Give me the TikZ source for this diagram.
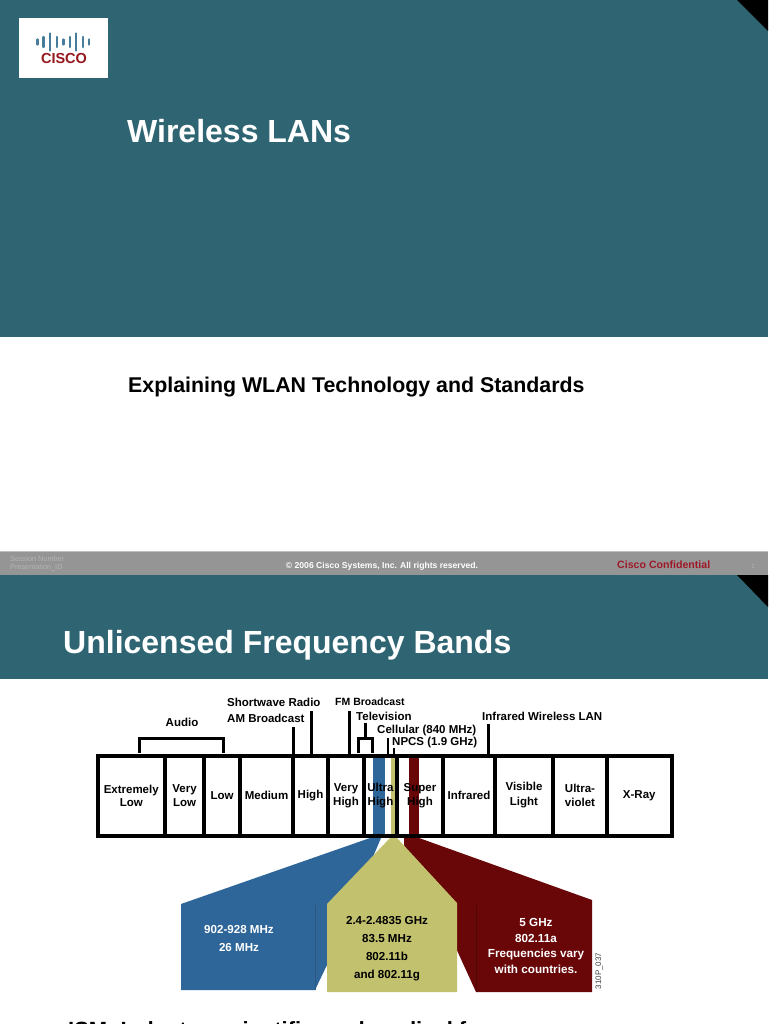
\documentclass[tikz,border=0pt]{standalone}
\usepackage{fontspec}
\setmainfont{Liberation Sans}
\usepackage{xcolor}
\definecolor{slideteal}{RGB}{47,101,115}
\definecolor{footgray}{RGB}{149,149,149}
\definecolor{ciscored}{RGB}{160,24,40}
\definecolor{bandblue}{RGB}{46,102,153}
\definecolor{bandkhaki}{RGB}{194,193,110}
\definecolor{bandred}{RGB}{104,6,8}
\definecolor{logoblue}{RGB}{70,125,155}
\definecolor{logored}{RGB}{150,24,30}

\begin{document}
\begin{tikzpicture}[
    x=1pt, y=-1pt,
    cell/.style={draw, line width=4pt, inner sep=0pt, outer sep=0pt, minimum height=80pt, align=center, font=\fontsize{11.5}{14}\selectfont\bfseries},
    toplabel/.style={inner sep=0pt, anchor=west, font=\fontsize{11.5}{12}\selectfont\bfseries},
    tick/.style={line width=3pt},
    fanlabel/.style={inner sep=0pt, align=center, font=\fontsize{11.6}{18}\selectfont\bfseries},
    foot/.style={inner sep=0pt, font=\fontsize{8.6}{10}\selectfont\bfseries}
]
\useasboundingbox (0,0) rectangle (768,1024);
\clip (0,0) rectangle (768,1024);
\fill[white] (0,0) rectangle (768,1024);
% top slide
\fill[slideteal] (0,0) rectangle (768,337);
\fill (737,0) -- (768,0) -- (768,31) -- cycle;
\fill[white] (19,18) rectangle (108,78);
\foreach \bx/\bh in {37.5/2.5, 43.5/5, 50/8.5, 57/5, 63.5/2.5, 70/5, 76/8.5, 83/5, 89/2.5}
    \draw[logoblue, line width=2.4pt, line cap=round] (\bx,42-\bh) -- (\bx,42+\bh);
\node[inner sep=0pt, text=logored, font=\fontsize{14.5}{15}\selectfont\bfseries] (logotext) at (64,59) {CISCO};
\node[inner sep=0pt, anchor=west, text=white, font=\fontsize{32}{34}\selectfont\bfseries] (title) at (127,131) {Wireless LANs};
\node[inner sep=0pt, anchor=west, font=\fontsize{21.35}{24}\selectfont\bfseries] (subtitle) at (128,387) {Explaining WLAN Technology and Standards};
% footer
\fill[footgray] (0,552) rectangle (768,575);
\fill[black!25] (0,551) rectangle (768,552);
\node[foot, anchor=west, text=white!30!footgray, font=\fontsize{7.3}{8}\selectfont] (session) at (10,559) {Session Number};
\node[foot, anchor=west, text=white!30!footgray, font=\fontsize{7.3}{8}\selectfont] (presid) at (10,568) {Presentation\_ID};
\node[foot, text=white] (copyright) at (382,566.5) {© 2006 Cisco Systems, Inc. All rights reserved.};
\node[foot, anchor=west, text=ciscored, font=\fontsize{10.6}{12}\selectfont\bfseries] (confid) at (617,564.5) {Cisco Confidential};
\node[foot, text=white!30!footgray, font=\fontsize{6}{7}\selectfont] (pagenum) at (753,566) {1};
% second slide
\fill[slideteal] (0,575) rectangle (768,679);
\fill (737,575) -- (768,575) -- (768,607) -- cycle;
\node[inner sep=0pt, anchor=west, text=white, font=\fontsize{32}{34}\selectfont\bfseries] (title2) at (63,645) {Unlicensed Frequency Bands};
% fans
\fill[bandblue] (370,838) -- (181,904) -- (181,990) -- (315,990) -- (327,965) -- (381,838) -- cycle;
\fill[bandred] (404,838) -- (419,838) -- (592,900) -- (592,992) -- (476,992) -- (450,935) -- (404,845) -- cycle;
\fill[bandkhaki] (390,838) -- (397,838) -- (457,903) -- (457,992) -- (327,992) -- (327,904) -- cycle;
\draw[bandblue!85!black, line width=0.5pt] (315,905) -- (315,990);
\draw[bandred!75!black, line width=0.5pt] (476,905) -- (476,992);
% bands
\fill[bandblue] (373,755) rectangle (385,838);
\fill[bandkhaki] (391,755) rectangle (396,838);
\fill[bandred] (409,755) rectangle (419,838);
% spectrum cells
\node[cell, minimum width=67.5pt] (elow) at (131.25,795.5) {Extremely\\[-1pt]Low};
\node[cell, minimum width=39pt] (vlow) at (184.5,795.5) {Very\\Low};
\node[cell, minimum width=36pt] (low) at (222,795.5) {Low};
\node[cell, minimum width=53pt] (medium) at (266.5,795.5) {Medium};
\node[cell, minimum width=35pt] (high) at (310.5,795.5) {High};
\node[cell, minimum width=36pt] (vhigh) at (346,795.5) {Very\\High};
\node[cell, minimum width=33pt] (uhigh) at (380.5,795.5) {Ultra\\High};
\node[cell, minimum width=46pt] (shigh) at (420,795.5) {Super\\High};
\node[cell, minimum width=52pt] (infra) at (469,795.5) {Infrared};
\node[cell, minimum width=58pt] (visible) at (524,795.5) {Visible\\[1pt]Light};
\node[cell, minimum width=54pt] (uviolet) at (580,795.5) {Ultra-\\violet};
\node[cell, minimum width=64.5pt] (xray) at (639.25,795.5) {X-Ray};
% labels above
\node[toplabel, anchor=center] (audio) at (182,722) {Audio};
\node[toplabel] (shortwave) at (227,702) {Shortwave Radio};
\node[toplabel] (ambroad) at (227,718) {AM Broadcast};
\node[toplabel, font=\fontsize{10.5}{12}\selectfont\bfseries] (fmbroad) at (335,702) {FM Broadcast};
\node[toplabel] (tv) at (356,716) {Television};
\node[toplabel] (cellular) at (377,731) {Cellular (840 MHz)};
\node[toplabel] (npcs) at (392,742.5) {NPCS (1.9 GHz)};
\node[toplabel] (irlan) at (482,716) {Infrared Wireless LAN};
\coordinate (amtop) at (293,727);
\coordinate (swtop) at (311,711);
\coordinate (fmtop) at (349,711);
\coordinate (tvtop) at (365,723);
\coordinate (celltop) at (388,738);
\coordinate (npcstop) at (394,748);
\coordinate (irtop) at (488,724);
\draw[tick] (139,753) |- (223,738) -- (223,753);
\draw[tick] (amtop) -- (amtop |- medium.north);
\draw[tick] (swtop) -- (swtop |- high.north);
\draw[tick] (fmtop) -- (fmtop |- vhigh.north);
\draw[tick] (tvtop) -- (365,738);
\draw[tick] (358,753) |- (372,738) -- (372,753);
\draw[tick, line width=2pt] (celltop) -- (celltop |- uhigh.north);
\draw[tick, line width=2pt] (npcstop) -- (npcstop |- uhigh.north);
\draw[tick] (irtop) -- (irtop |- infra.north);
% fan texts
\node[fanlabel, text=white] (fanblue) at (239,938) {902-928 MHz\\26 MHz};
\node[fanlabel] (fankhaki) at (387,949) {2.4-2.4835 GHz\\83.5 MHz\\802.11b\\and 802.11g};
\node[fanlabel, text=white, font=\fontsize{11.7}{15.5}\selectfont\bfseries] (fanred) at (536,946) {5 GHz\\802.11a\\Frequencies vary\\with countries.};
\node[inner sep=0pt, rotate=90, text=black!75, font=\fontsize{8}{9}\selectfont] (figid) at (599,971) {310P\_037};
% cut off by the page edge
\node[inner sep=0pt, anchor=base west, font=\fontsize{22}{24}\selectfont\bfseries] (bullet) at (68,1037) {ISM: Industry, scientific, and medical frequency};
\end{tikzpicture}
\end{document}
